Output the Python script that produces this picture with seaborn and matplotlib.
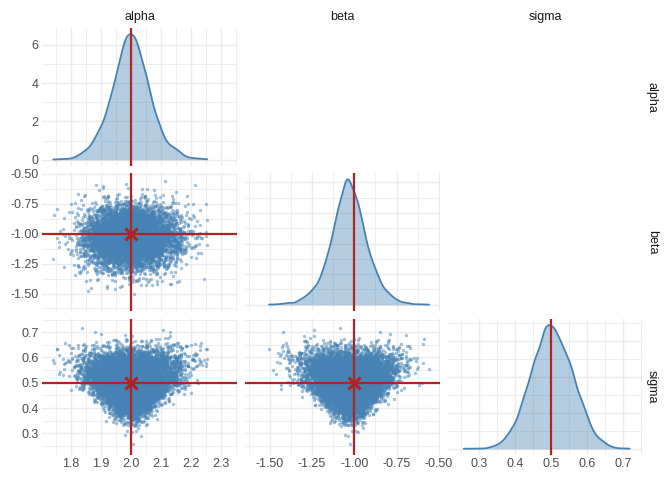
import numpy as np
import pandas as pd
import matplotlib
matplotlib.use("Agg")
import matplotlib.pyplot as plt
import seaborn as sns
from matplotlib.ticker import FixedLocator, AutoMinorLocator, MaxNLocator, FormatStrFormatter

# ---------------- data ----------------
params = ["alpha", "beta", "sigma"]
true_values = [2.0, -1.0, 0.5]
# posterior summaries (centre, spread at sigma = 0.5)
post_center = [2.0, -1.03, 0.505]
post_scale = [0.062, 0.104, 0.058]
funnel_power = 2.2        # alpha/beta spread grows with sigma (heart shape)
# observed range of the draws in the picture
draw_min = [1.735, -1.61, 0.24]
draw_max = [2.33, -0.55, 0.73]
n_draws = 10000

# posterior draws (thousands of points cannot be typed; drawn with a fixed seed
# from the summaries above, kept within the observed range)
rng = np.random.default_rng(20240501)
sigma_draws = rng.normal(post_center[2], post_scale[2], n_draws)
spread = (sigma_draws / 0.5) ** funnel_power
alpha_draws = post_center[0] + post_scale[0] * spread * rng.standard_normal(n_draws)
beta_draws = post_center[1] + post_scale[1] * spread * rng.standard_normal(n_draws)
draws = pd.DataFrame({"alpha": alpha_draws, "beta": beta_draws, "sigma": sigma_draws})
keep = np.ones(len(draws), dtype=bool)
for p, lo, hi in zip(params, draw_min, draw_max):
    keep &= draws[p].between(lo, hi).to_numpy()
draws = draws[keep].reset_index(drop=True)

alpha_ticks = [1.8, 1.9, 2.0, 2.1, 2.2, 2.3]
beta_ticks = [-1.5, -1.25, -1.0, -0.75, -0.5]
sigma_ticks = [0.3, 0.4, 0.5, 0.6, 0.7]
alpha_density_ticks = [0, 2, 4, 6]

# ---------------- style ----------------
sns.set_theme(style="white")
plt.rcParams["font.family"] = ["Liberation Sans", "DejaVu Sans"]
plt.rcParams["axes.unicode_minus"] = False

BLUE = "#4682B4"
RED = "#B22222"
GRID = "#EBEBEB"
TXT = "#4D4D4D"

ticks = {"alpha": alpha_ticks, "beta": beta_ticks, "sigma": sigma_ticks}
fmts = {"alpha": "%.1f", "beta": "%.2f", "sigma": "%.1f"}
limits = {"alpha": (1.703, 2.353), "beta": (-1.646, -0.493), "sigma": (0.215, 0.752)}

W, H = 672, 480
fig = plt.figure(figsize=(W / 100, H / 100), dpi=100)
fig.patch.set_facecolor("white")

lefts = [42, 245, 448]
widths = [195, 195, 194]
tops = [28, 173, 319]
heights = [138, 138, 136]


def make_ax(r, c):
    l, t, w, h = lefts[c], tops[r], widths[c], heights[r]
    ax = fig.add_axes([l / W, 1 - (t + h) / H, w / W, h / H])
    ax.set_facecolor("white")
    for s in ax.spines.values():
        s.set_visible(False)
    ax.set_axisbelow(True)
    ax.tick_params(length=0, labelsize=9, colors=TXT, pad=2.5)
    return ax


def style_grid(ax):
    ax.grid(True, which="major", color=GRID, linewidth=1.0)
    ax.grid(True, which="minor", color=GRID, linewidth=0.6)


for r, py in enumerate(params):
    for c, px in enumerate(params):
        if c > r:
            continue
        ax = make_ax(r, c)
        if r == c:
            sns.kdeplot(data=draws, x=px, ax=ax, fill=True, color=BLUE, alpha=0.4,
                        linewidth=0, cut=0)
            sns.kdeplot(data=draws, x=px, ax=ax, fill=False, color=BLUE,
                        linewidth=1.3, cut=0)
            ymax = max(line.get_ydata().max() for line in ax.get_lines())
            ax.set_ylim(-0.05 * ymax, 1.05 * ymax)
            ax.axvline(true_values[c], color=RED, linewidth=1.6)
            if r == 0:
                ax.yaxis.set_major_locator(FixedLocator(alpha_density_ticks))
                ax.yaxis.set_major_formatter(FormatStrFormatter("%d"))
            else:
                ax.yaxis.set_major_locator(MaxNLocator(5, integer=True))
                ax.tick_params(axis="y", labelleft=False)
            ax.yaxis.set_minor_locator(AutoMinorLocator(2))
        else:
            sns.scatterplot(data=draws, x=px, y=py, ax=ax, s=6, alpha=0.5,
                            color=BLUE, linewidth=0)
            ax.axvline(true_values[c], color=RED, linewidth=1.6)
            ax.axhline(true_values[r], color=RED, linewidth=1.6)
            ax.plot([true_values[c]], [true_values[r]], marker="x", color=RED,
                    markersize=9, markeredgewidth=2.2, linestyle="none")
            ax.set_ylim(*limits[py])
            ax.yaxis.set_major_locator(FixedLocator(ticks[py]))
            ax.yaxis.set_major_formatter(FormatStrFormatter(fmts[py]))
            ax.yaxis.set_minor_locator(AutoMinorLocator(2))
            if c > 0:
                ax.tick_params(axis="y", labelleft=False)
        ax.set_xlim(*limits[px])
        ax.xaxis.set_major_locator(FixedLocator(ticks[px]))
        ax.xaxis.set_major_formatter(FormatStrFormatter(fmts[px]))
        ax.xaxis.set_minor_locator(AutoMinorLocator(2))
        if r < 2:
            ax.tick_params(axis="x", labelbottom=False)
        style_grid(ax)
        ax.set_xlabel("")
        ax.set_ylabel("")

# strip labels
for c, p in enumerate(params):
    fig.text((lefts[c] + widths[c] / 2) / W, 1 - 17 / H, p, ha="center", va="center",
             fontsize=9, color="#1A1A1A")
for r, p in enumerate(params):
    fig.text(652 / W, 1 - (tops[r] + heights[r] / 2) / H, p, ha="center", va="center",
             rotation=270, fontsize=9, color="#1A1A1A")

fig.savefig("out.png", dpi=100, facecolor="white")
